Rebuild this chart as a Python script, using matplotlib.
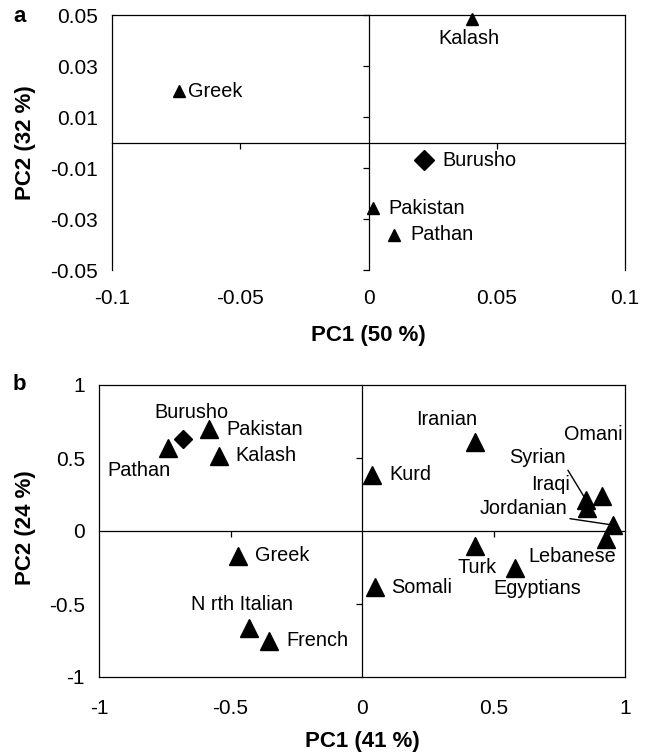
import matplotlib
matplotlib.use('Agg')
import matplotlib.pyplot as plt

plt.rcParams['font.family'] = ['Liberation Sans', 'DejaVu Sans']

# ---------------- data: panel a ----------------
a_names = ['Greek', 'Kalash', 'Burusho', 'Pakistan', 'Pathan']
a_pc1 = [-0.0738, 0.0403, 0.0216, 0.0016, 0.0098]
a_pc2 = [0.0201, 0.0483, -0.0069, -0.0257, -0.0361]
a_shape = ['^', '^', 'D', '^', '^']
a_xticks = [-0.1, -0.05, 0, 0.05, 0.1]
a_xticklabels = ['-0.1', '-0.05', '0', '0.05', '0.1']
a_yticks = [-0.05, -0.03, -0.01, 0.01, 0.03, 0.05]
a_yticklabels = ['-0.05', '-0.03', '-0.01', '0.01', '0.03', '0.05']

# ---------------- data: panel b ----------------
b_names = ['Pathan', 'Burusho', 'Pakistan', 'Kalash', 'Greek', 'N rth Italian',
           'French', 'Kurd', 'Somali', 'Iranian', 'Turk', 'Egyptians',
           'Syrian', 'Iraqi', 'Omani', 'Jordanian', 'Lebanese']
b_pc1 = [-0.736, -0.680, -0.581, -0.543, -0.470, -0.428, -0.354, 0.039, 0.050,
         0.429, 0.428, 0.582, 0.851, 0.855, 0.911, 0.953, 0.927]
b_pc2 = [0.566, 0.627, 0.697, 0.516, -0.170, -0.663, -0.753, 0.385, -0.385,
         0.611, -0.100, -0.256, 0.215, 0.158, 0.238, 0.041, -0.057]
b_shape = ['^', 'D', '^', '^', '^', '^', '^', '^', '^', '^', '^', '^',
           '^', '^', '^', '^', '^']
b_xticks = [-1, -0.5, 0, 0.5, 1]
b_xticklabels = ['-1', '-0.5', '0', '0.5', '1']
b_yticks = [-1, -0.5, 0, 0.5, 1]
b_yticklabels = ['-1', '-0.5', '0', '0.5', '1']

# ---------------- layout (label offsets in points, alignment) ----------------
a_layout = {
    'Greek': ((6.6, 0), 'left'),
    'Kalash': ((-2.4, -13.6), 'center'),
    'Burusho': ((13.5, 0), 'left'),
    'Pakistan': ((11.4, 0), 'left'),
    'Pathan': ((12.2, 0), 'left'),
}
b_layout = {
    'Pathan': ((-21.4, -16.1), 'center'),
    'Burusho': ((5.9, 19.4), 'center'),
    'Pakistan': ((12.5, 0), 'left'),
    'Kalash': ((12, 0), 'left'),
    'Greek': ((12, 0), 'left'),
    'N rth Italian': ((-5.1, 17.1), 'center'),
    'French': ((12.3, 0), 'left'),
    'Kurd': ((12.3, 0), 'left'),
    'Somali': ((11.8, 0), 'left'),
    'Iranian': ((-20.3, 16.3), 'center'),
    'Turk': ((1.7, -15.8), 'center'),
    'Egyptians': ((15.7, -14.8), 'center'),
    'Syrian': ((-34.5, 30), 'center'),
    'Iraqi': ((-26.2, 16.8), 'center'),
    'Omani': ((-6.3, 44.2), 'center'),
    'Jordanian': ((-64.3, 11.7), 'center'),
    'Lebanese': ((-24.1, -12.4), 'center'),
}
b_leader = {'Syrian', 'Jordanian'}

TICK_FS = 15
PT_FS = 14.3
LAB_FS = 16
LW = 0.9

fig = plt.figure(figsize=(6.48, 7.55), dpi=100)

W, H = 648, 755
def rect(l, t, r, b):
    return [l / W, 1 - b / H, (r - l) / W, (b - t) / H]

ax_a = fig.add_axes(rect(112, 15, 625, 270))
ax_b = fig.add_axes(rect(99, 385, 625, 677))


def style_axes(ax, xlim, ylim, xticks, xlabels, yticks, ylabels, inner_x, inner_y,
               show_bottom, xpad):
    ax.set_xlim(*xlim)
    ax.set_ylim(*ylim)
    for s in ['top', 'right']:
        ax.spines[s].set_linewidth(LW)
    ax.spines['left'].set_position(('data', 0))
    ax.spines['bottom'].set_position(('data', 0))
    ax.spines['left'].set_linewidth(LW)
    ax.spines['bottom'].set_linewidth(LW)
    ax.set_xticks(inner_x)
    ax.set_yticks(inner_y)
    ax.tick_params(axis='both', direction='out', length=4, width=LW,
                   labelleft=False, labelbottom=False)
    # outer labels
    sy = ax.secondary_yaxis('left')
    sy.set_yticks(yticks, ylabels)
    sy.tick_params(length=0, pad=10, labelsize=TICK_FS)
    sy.spines['left'].set_linewidth(LW)
    sx = ax.secondary_xaxis('bottom')
    sx.set_xticks(xticks, xlabels)
    sx.tick_params(length=0, pad=xpad, labelsize=TICK_FS)
    sx.spines['bottom'].set_linewidth(LW)
    sx.spines['bottom'].set_visible(show_bottom)


style_axes(ax_a, (-0.1, 0.1), (-0.05, 0.05), a_xticks, a_xticklabels,
           a_yticks, a_yticklabels, [-0.05, 0.05], a_yticks, False, 14)
style_axes(ax_b, (-1, 1), (-1, 1), b_xticks, b_xticklabels,
           b_yticks, b_yticklabels, [-0.5, 0.5], [-0.5, 0.5], True, 16)

# panel a points
for n, x, y, m in zip(a_names, a_pc1, a_pc2, a_shape):
    ax_a.plot([x], [y], marker=m, color='black', markersize=9 if m == '^' else 10,
              linestyle='none', clip_on=False, zorder=5)
    off, ha = a_layout[n]
    ax_a.annotate(n, (x, y), xytext=off, textcoords='offset points',
                  ha=ha, va='center', fontsize=PT_FS)

# panel b points
for n, x, y, m in zip(b_names, b_pc1, b_pc2, b_shape):
    ax_b.plot([x], [y], marker=m, color='black', markersize=12.5 if m == '^' else 9,
              linestyle='none', clip_on=False, zorder=5)
    off, ha = b_layout[n]
    if n in b_leader:
        ax_b.annotate(n, (x, y), xytext=off, textcoords='offset points',
                      ha=ha, va='center', fontsize=PT_FS,
                      arrowprops=dict(arrowstyle='-', color='black', lw=1.0,
                                      shrinkA=0, shrinkB=2, relpos=(1, 0)))
    else:
        ax_b.annotate(n, (x, y), xytext=off, textcoords='offset points',
                      ha=ha, va='center', fontsize=PT_FS)

# axis titles and panel letters
fig.text(368 / W, 1 - 336 / H, 'PC1 (50 %)', ha='center', va='center',
         fontsize=LAB_FS, fontweight='bold')
fig.text(25 / W, 1 - 143 / H, 'PC2 (32 %)', ha='center', va='center',
         fontsize=LAB_FS, fontweight='bold', rotation=90)
fig.text(362 / W, 1 - 742 / H, 'PC1 (41 %)', ha='center', va='center',
         fontsize=LAB_FS, fontweight='bold')
fig.text(25 / W, 1 - 528 / H, 'PC2 (24 %)', ha='center', va='center',
         fontsize=LAB_FS, fontweight='bold', rotation=90)
fig.text(13 / W, 1 - 16 / H, 'a', ha='left', va='center', fontsize=LAB_FS,
         fontweight='bold')
fig.text(13 / W, 1 - 384 / H, 'b', ha='left', va='center', fontsize=LAB_FS,
         fontweight='bold')

fig.savefig('out.png', dpi=100)
